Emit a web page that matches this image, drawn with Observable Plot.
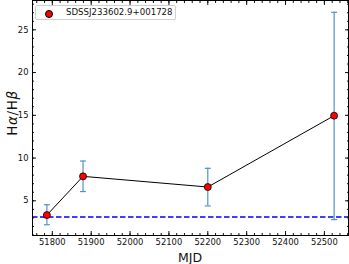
<!DOCTYPE html>
<html>
<head>
<meta charset="utf-8">
<script src="https://cdn.jsdelivr.net/npm/d3@7"></script>
<script src="https://cdn.jsdelivr.net/npm/@observablehq/plot@0.6"></script>
<style>
  html, body { margin: 0; padding: 0; background: #fff; }
  #wrap { position: relative; width: 349px; height: 264px; font-family: "DejaVu Sans", sans-serif; }
  #legend { position: absolute; left: 35px; top: 5px; width: 141px; height: 15px; border: 1px solid #d0d0d0; border-radius: 2px; background: rgba(255,255,255,0.8); box-sizing: border-box; }
  #legend .dot { position: absolute; left: 9px; top: 3.5px; width: 6px; height: 6px; border-radius: 50%; background: red; border: 1px solid #000; }
  #legend .txt { position: absolute; left: 30px; top: 0px; font-size: 8.6px; line-height: 13px; color: #111; white-space: nowrap; }
  #ylab { position: absolute; left: 12px; top: 113px; transform: translate(-50%, -50%) rotate(-90deg); font-size: 13.5px; letter-spacing: 0.6px; white-space: nowrap; color: #111; }
  #xlab { position: absolute; left: 190px; top: 257px; transform: translate(-50%, -50%); font-size: 12.5px; color: #111; }
</style>
</head>
<body>
<div id="wrap"></div>
<script>
const mjd = [51786, 51879, 52200, 52525];
const ratio = [3.33, 7.86, 6.61, 14.96];
const errLow = [2.2, 6.08, 4.4, 2.8];
const errHigh = [4.54, 9.65, 8.8, 27.05];
const balmer = [3.1];
const xTicks = [51800, 51900, 52000, 52100, 52200, 52300, 52400, 52500];
const yTicks = [5, 10, 15, 20, 25];
const seriesName = "SDSSJ233602.9+001728";

const data = mjd.map((m, i) => ({mjd: m, r: ratio[i], lo: errLow[i], hi: errHigh[i]}));
const xMinor = d3.range(51760, 52561, 20);
const yMinor = d3.range(1, 29, 1);

const capSymbol = {
  draw(ctx, size) {
    const w = Math.sqrt(size / Math.PI);
    ctx.moveTo(-w, 0);
    ctx.lineTo(w, 0);
  }
};

const errColor = "#4f93cc";

const chart = Plot.plot({
  width: 349,
  height: 264,
  marginLeft: 32,
  marginRight: 1,
  marginTop: 0,
  marginBottom: 29,
  style: {fontFamily: "DejaVu Sans, sans-serif", fontSize: "8.4px", color: "#111", background: "white"},
  x: {domain: [51749, 52562]},
  y: {domain: [0.94, 28.43]},
  marks: [
    Plot.ruleY(balmer, {stroke: "blue", strokeWidth: 1.5, strokeDasharray: "5.5,2.5"}),
    Plot.ruleX(data, {x: "mjd", y1: "lo", y2: "hi", stroke: errColor, strokeWidth: 1.2}),
    Plot.dot(data, {x: "mjd", y: "lo", symbol: capSymbol, r: 3, stroke: errColor, strokeWidth: 1.2}),
    Plot.dot(data, {x: "mjd", y: "hi", symbol: capSymbol, r: 3, stroke: errColor, strokeWidth: 1.2}),
    Plot.line(data, {x: "mjd", y: "r", stroke: "black", strokeWidth: 1}),
    Plot.dot(data, {x: "mjd", y: "r", r: 3.5, fill: "red", stroke: "black", strokeWidth: 0.8}),
    Plot.axisX({anchor: "bottom", ticks: xTicks, tickSize: 0, tickPadding: 4, tickFormat: d => String(d), label: null}),
    Plot.axisY({anchor: "left", ticks: yTicks, tickSize: 0, tickPadding: 4, tickFormat: d => String(d), label: null}),
    Plot.axisX({anchor: "bottom", ticks: xTicks, tickSize: -4, text: null, label: null}),
    Plot.axisX({anchor: "top", ticks: xTicks, tickSize: -4, text: null, label: null}),
    Plot.axisX({anchor: "bottom", ticks: xMinor, tickSize: -2, text: null, label: null}),
    Plot.axisX({anchor: "top", ticks: xMinor, tickSize: -2, text: null, label: null}),
    Plot.axisY({anchor: "left", ticks: yTicks, tickSize: -4, text: null, label: null}),
    Plot.axisY({anchor: "right", ticks: yTicks, tickSize: -4, text: null, label: null}),
    Plot.axisY({anchor: "left", ticks: yMinor, tickSize: -2, text: null, label: null}),
    Plot.axisY({anchor: "right", ticks: yMinor, tickSize: -2, text: null, label: null}),
    Plot.frame({stroke: "black", strokeWidth: 1})
  ]
});

const wrap = document.getElementById("wrap");
wrap.appendChild(chart);
const legend = document.createElement("div");
legend.id = "legend";
legend.innerHTML = '<div class="dot"></div><div class="txt"></div>';
legend.querySelector(".txt").textContent = seriesName;
wrap.appendChild(legend);
const ylab = document.createElement("div");
ylab.id = "ylab";
ylab.innerHTML = 'H<i>α</i>/H<i>β</i>';
wrap.appendChild(ylab);
const xlab = document.createElement("div");
xlab.id = "xlab";
xlab.textContent = "MJD";
wrap.appendChild(xlab);
</script>
</body>
</html>
